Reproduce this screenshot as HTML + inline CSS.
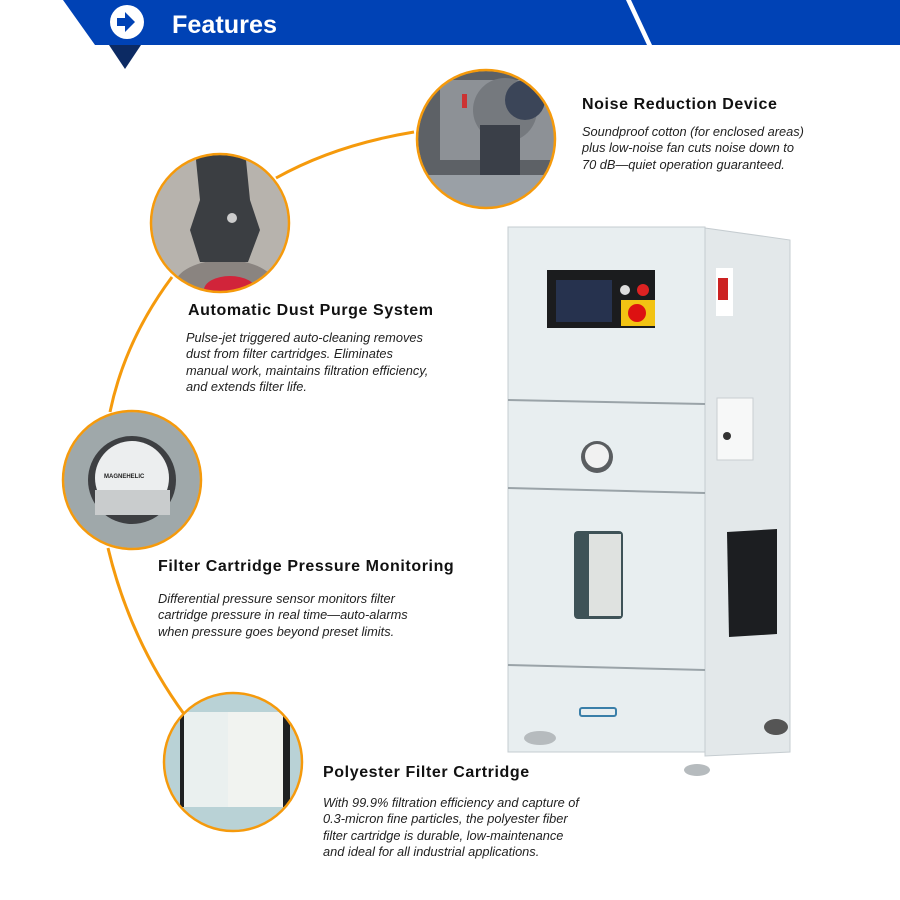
<!DOCTYPE html>
<html><head><meta charset="utf-8"><style>
html,body{margin:0;padding:0;background:#fff;}
body{width:900px;height:900px;overflow:hidden;position:relative;font-family:"Liberation Sans",sans-serif;}
.t{position:absolute;font-weight:bold;font-size:16px;color:#111;letter-spacing:0.6px;white-space:nowrap;}
.d{position:absolute;font-style:italic;font-size:12.8px;line-height:16.3px;color:#222;white-space:nowrap;}
</style></head><body>
<svg width="900" height="900" style="position:absolute;left:0;top:0">
<defs>
<clipPath id="c1"><circle cx="486" cy="139" r="68"/></clipPath>
<clipPath id="c2"><circle cx="220" cy="223" r="68"/></clipPath>
<clipPath id="c3"><circle cx="132" cy="480" r="68"/></clipPath>
<clipPath id="c4"><circle cx="233" cy="762" r="68"/></clipPath>
</defs>
<polygon points="63,0 900,0 900,45 95,45" fill="#0042b5"/>
<polygon points="626,0 631,0 652,45 647,45" fill="#fff"/>
<polygon points="109,45 141,45 125,69" fill="#0c2a63"/>
<circle cx="127" cy="22" r="17" fill="#fff"/>
<polygon points="117,18 125,18 125,12 135,22 125,32 125,26 117,26" fill="#0042b5"/>
<text x="172" y="33" font-family="Liberation Sans" font-weight="bold" font-size="25" fill="#fff" textLength="105" lengthAdjust="spacingAndGlyphs">Features</text>
<g fill="none" stroke="#f59a0c" stroke-width="3">
<path d="M414,132 Q335,145 276,178"/>
<path d="M172,277 Q125,340 110,412"/>
<path d="M108,548 Q130,640 184,714"/>
</g>
<g clip-path="url(#c1)"><rect x="410" y="60" width="160" height="160" fill="#5d6166"/>
<rect x="440" y="80" width="120" height="80" fill="#8d9196"/><circle cx="505" cy="110" r="32" fill="#75797e"/>
<circle cx="525" cy="100" r="20" fill="#3b4558"/><rect x="480" y="125" width="40" height="60" fill="#3a3f48"/>
<rect x="410" y="175" width="160" height="50" fill="#9aa0a6"/><rect x="462" y="94" width="5" height="14" fill="#c33"/></g>
<circle cx="486" cy="139" r="69" fill="none" stroke="#f59a0c" stroke-width="2.5"/>
<g clip-path="url(#c2)"><rect x="150" y="150" width="140" height="150" fill="#b7b3ad"/>
<ellipse cx="225" cy="285" rx="50" ry="25" fill="#8a8480"/><ellipse cx="230" cy="290" rx="26" ry="14" fill="#d1243a"/>
<polygon points="195,150 245,150 250,200 260,230 248,262 200,262 190,230 200,200" fill="#3b3e42"/>
<circle cx="232" cy="218" r="5" fill="#ccc"/></g>
<circle cx="220" cy="223" r="69" fill="none" stroke="#f59a0c" stroke-width="2.5"/>
<g clip-path="url(#c3)"><rect x="60" y="410" width="145" height="145" fill="#9fa8aa"/>
<circle cx="132" cy="480" r="44" fill="#3d3f42"/><circle cx="132" cy="478" r="37" fill="#eceeef"/>
<rect x="95" y="490" width="75" height="25" fill="#c9cccd"/></g>
<circle cx="132" cy="480" r="69" fill="none" stroke="#f59a0c" stroke-width="2.5"/>
<text x="104" y="478" font-size="6" font-weight="bold" fill="#222" font-family="Liberation Sans">MAGNEHELIC</text>
<g clip-path="url(#c4)"><rect x="160" y="690" width="150" height="150" fill="#b9d2d6"/>
<rect x="180" y="712" width="110" height="95" fill="#1e2022"/>
<rect x="184" y="712" width="44" height="95" fill="#eaf0ef"/><rect x="228" y="712" width="55" height="95" fill="#f1f3f0"/></g>
<circle cx="233" cy="762" r="69" fill="none" stroke="#f59a0c" stroke-width="2.5"/>
<polygon points="705,228 790,240 790,752 705,756" fill="#e3e8ea" stroke="#c5ccd0"/>
<rect x="508" y="227" width="197" height="525" fill="#e8eef0" stroke="#c5ccd0"/>
<g stroke="#9aa3a8" stroke-width="2"><line x1="508" y1="400" x2="705" y2="404"/><line x1="508" y1="488" x2="705" y2="493"/><line x1="508" y1="665" x2="705" y2="670"/></g>
<rect x="547" y="270" width="108" height="58" fill="#1b1c1e"/>
<rect x="556" y="280" width="56" height="42" fill="#26324e"/>
<circle cx="625" cy="290" r="5" fill="#ddd"/><circle cx="643" cy="290" r="6" fill="#d22"/>
<rect x="621" y="300" width="34" height="26" fill="#f2c313"/><circle cx="637" cy="313" r="9" fill="#d11"/>
<circle cx="597" cy="457" r="16" fill="#5a5d60"/><circle cx="597" cy="456" r="12" fill="#f1f1f1"/>
<rect x="574" y="531" width="49" height="88" rx="4" fill="#3e5257"/><rect x="589" y="534" width="32" height="82" fill="#dfe2e0"/>
<rect x="580" y="708" width="36" height="8" rx="2" fill="none" stroke="#3a7fa9" stroke-width="2"/>
<rect x="716" y="268" width="17" height="48" fill="#fff"/><rect x="718" y="278" width="10" height="22" fill="#c22"/>
<rect x="717" y="398" width="36" height="62" fill="#f7f8f8" stroke="#c8ced1"/><circle cx="727" cy="436" r="4" fill="#333"/>
<polygon points="727,532 777,529 777,634 729,637" fill="#1c1e21"/>
<ellipse cx="540" cy="738" rx="16" ry="7" fill="#b6bbbe"/><ellipse cx="697" cy="770" rx="13" ry="6" fill="#b6bbbe"/>
<ellipse cx="776" cy="727" rx="12" ry="8" fill="#555"/>
</svg>
<div class="t" style="left:582px;top:96px;">Noise Reduction Device</div>
<div class="d" style="left:582px;top:124px;">Soundproof cotton (for enclosed areas)<br>plus low-noise fan cuts noise down to<br>70 dB—quiet operation guaranteed.</div>
<div class="t" style="left:188px;top:302px;">Automatic Dust Purge System</div>
<div class="d" style="left:186px;top:330px;">Pulse-jet triggered auto-cleaning removes<br>dust from filter cartridges. Eliminates<br>manual work, maintains filtration efficiency,<br>and extends filter life.</div>
<div class="t" style="left:158px;top:558px;">Filter Cartridge Pressure Monitoring</div>
<div class="d" style="left:158px;top:591px;">Differential pressure sensor monitors filter<br>cartridge pressure in real time—auto-alarms<br>when pressure goes beyond preset limits.</div>
<div class="t" style="left:323px;top:764px;">Polyester Filter Cartridge</div>
<div class="d" style="left:323px;top:795px;">With 99.9% filtration efficiency and capture of<br>0.3-micron fine particles, the polyester fiber<br>filter cartridge is durable, low-maintenance<br>and ideal for all industrial applications.</div>
</body></html>
